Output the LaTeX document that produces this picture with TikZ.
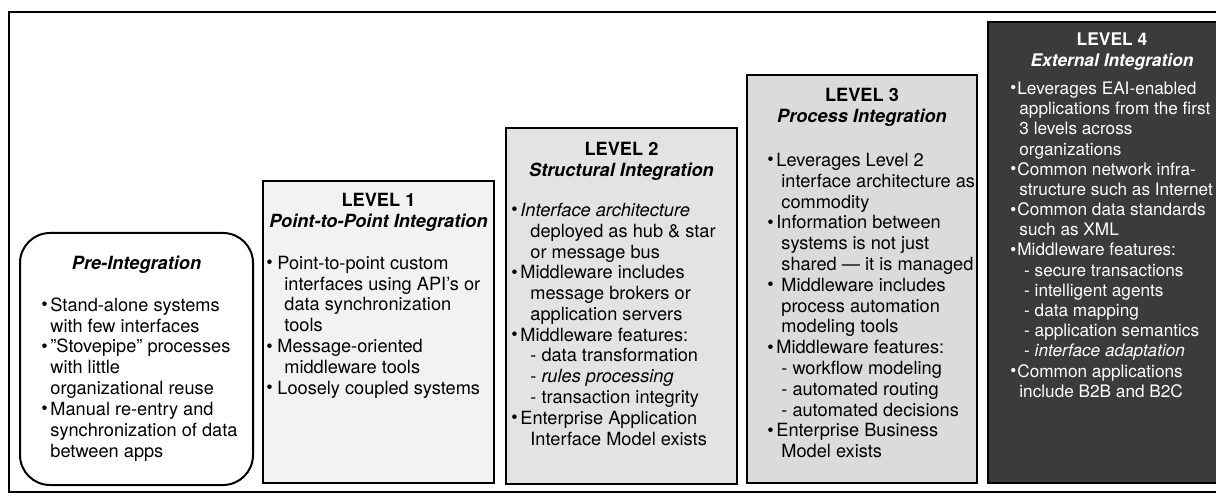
\documentclass[tikz,border=0pt]{standalone}
\usepackage{fontspec}
\setmainfont{TeX Gyre Heros}

% bullet lists with a hanging indent set per box
\newlength\bulw
\newlength\contw
\newcommand\bulletdot{\raisebox{0.05ex}{\textbullet}}
\newcommand\bl{\makebox[\bulw][l]{\bulletdot}}
\newcommand\cl{\hspace*{\contw}}
\newcommand\fl{\rule{0pt}{7pt}}

\definecolor{lonefill}{gray}{0.95}
\definecolor{ltwofill}{gray}{0.89}
\definecolor{lthreefill}{gray}{0.86}
\definecolor{lfourfill}{gray}{0.23}

\begin{document}
\begin{tikzpicture}[x=0.5pt,y=-0.5pt,
  stage/.style={draw=black, line width=1pt, inner sep=0pt, outer sep=0pt, anchor=north west},
  headtext/.style={anchor=north, align=center, inner sep=0pt,
    font=\fontsize{9.1}{10.4}\selectfont\bfseries},
  bodytext/.style={anchor=north west, align=left, inner sep=0pt,
    font=\fontsize{9.1}{10.4}\selectfont},
  indents/.code 2 args={\setlength\bulw{#1}\setlength\contw{#2}},
]
\useasboundingbox (0,0) rectangle (1216,497);
\clip (0,0) rectangle (1216,497);

% outer frame
\draw[line width=1.3pt] (1240,12) -| (9,492) -- (1240,492);

% stage boxes
\node[stage, rounded corners=15pt, fill=white, minimum width=116.5pt, minimum height=126pt] (pre) at (20,233) {};
\node[stage, fill=lonefill, minimum width=115.5pt, minimum height=151pt] (lone) at (263,181) {};
\node[stage, fill=ltwofill, minimum width=115.5pt, minimum height=178pt] (ltwo) at (506,128) {};
\node[stage, fill=lthreefill, minimum width=115pt, minimum height=204pt] (lthree) at (747,75) {};
\node[stage, fill=lfourfill, minimum width=124pt, minimum height=230.5pt] (lfour) at (988,22) {};

% headings
\node[headtext] (preh) at (136.5,255.5) {\fl\itshape Pre-Integration};
\node[headtext] (loneh) at (378.5,192.5) {\fl LEVEL 1\\{\itshape Point-to-Point Integration}};
\node[headtext] (ltwoh) at (621.5,141.5) {\fl LEVEL 2\\{\itshape Structural Integration}};
\node[headtext] (lthreeh) at (862,87.5) {\fl LEVEL 3\\{\itshape Process Integration}};
\node[headtext, text=white, font=\fontsize{8.7}{10.1}\selectfont\bfseries] (lfourh) at (1112,31.5)
  {\fl LEVEL 4\\{\itshape External Integration}};

% bullet lists
\node[bodytext, indents={4.5pt}{4.5pt}] (pret) at (41,297) {\fl\bl Stand-alone systems\\
\cl with few interfaces\\
\bl "Stovepipe” processes\\
\cl with little\\
\cl organizational reuse\\
\bl Manual re-entry and\\
\cl synchronization of data\\
\cl between apps};

\node[bodytext, indents={5.5pt}{9pt}] (lonet) at (266,255) {\fl\bl Point-to-point custom\\
\cl interfaces using API's or\\
\cl data synchronization\\
\cl tools\\
\bl Message-oriented\\
\cl middleware tools\\
\bl Loosely coupled systems};

\node[bodytext, indents={4.5pt}{9.5pt}] (ltwot) at (511,202) {\fl\bl \textit{Interface architecture}\\
\cl deployed as hub \& star\\
\cl or message bus\\
\bl Middleware includes\\
\cl message brokers or\\
\cl application servers\\
\bl Middleware features:\\
\cl - data transformation\\
\cl - \textit{rules processing}\\
\cl - transaction integrity\\
\bl Enterprise Application\\
\cl Interface Model exists};

\node[bodytext, indents={4.5pt}{7pt}] (lthreet) at (767,152) {\fl\bl Leverages Level 2\\
\cl interface architecture as\\
\cl commodity\\
\bl Information between\\
\cl systems is not just\\
\cl shared — it is managed\\
\bl\ Middleware includes\\
\cl process automation\\
\cl modeling tools\\
\bl Middleware features:\\
\cl - workflow modeling\\
\cl - automated routing\\
\cl - automated decisions\\
\bl Enterprise Business\\
\cl Model exists};

\node[bodytext, indents={3.5pt}{4.5pt}, text=white, font=\fontsize{8.6}{10.1}\selectfont] (lfourt) at (1010,80) {\fl\bl Leverages EAI-enabled\\
\cl applications from the first\\
\cl 3 levels across\\
\cl organizations\\
\bl Common network infra-\\
\cl structure such as Internet\\
\bl Common data standards\\
\cl such as XML\\
\bl Middleware features:\\
\cl\ - secure transactions\\
\cl\ - intelligent agents\\
\cl\ - data mapping\\
\cl\ - application semantics\\
\cl\ - \textit{interface adaptation}\\
\bl Common applications\\
\cl include B2B and B2C};
\end{tikzpicture}
\end{document}
